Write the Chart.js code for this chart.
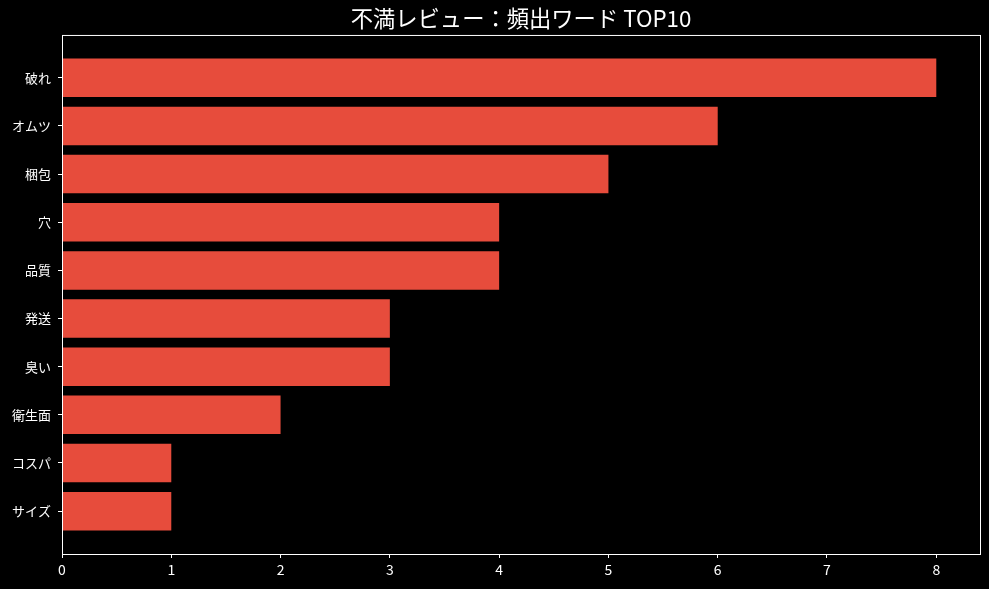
<!DOCTYPE html>
<html>
<head>
<meta charset="utf-8">
<script src="https://cdn.jsdelivr.net/npm/chart.js@4"></script>
<style>
  html, body { margin: 0; padding: 0; background: #000; }
  #wrap { width: 989px; height: 589px; }
</style>
</head>
<body>
<div id="wrap"><canvas id="chart"></canvas></div>
<script>
const categories = ['破れ', 'オムツ', '梱包', '穴', '品質', '発送', '臭い', '衛生面', 'コスパ', 'サイズ']
const counts = [8, 6, 5, 4, 4, 3, 3, 2, 1, 1]
const xTicks = [0, 1, 2, 3, 4, 5, 6, 7, 8]

const FONT = "'Noto Sans CJK JP', 'Noto Sans', sans-serif"

const frame = {
  id: 'frame',
  beforeDraw(chart) {
    const ctx = chart.ctx
    ctx.save()
    ctx.fillStyle = '#000'
    ctx.fillRect(0, 0, chart.width, chart.height)
    ctx.restore()
  },
  afterDraw(chart) {
    const { left, top, right, bottom } = chart.chartArea
    const ctx = chart.ctx
    ctx.save()
    ctx.strokeStyle = '#fff'
    ctx.lineWidth = 1
    ctx.strokeRect(left + 0.5, top + 0.5, right - left, bottom - top)
    ctx.restore()
  }
}

new Chart(document.getElementById('chart'), {
  type: 'bar',
  data: {
    datasets: [{
      data: counts.map((v, i) => ({ x: v, y: i })),
      backgroundColor: '#e74c3c',
      borderWidth: 0,
      barPercentage: 0.8,
      categoryPercentage: 1.0
    }]
  },
  options: {
    indexAxis: 'y',
    responsive: true,
    maintainAspectRatio: false,
    animation: false,
    layout: { padding: { top: 0, right: 9, bottom: 0, left: 0 } },
    scales: {
      x: {
        type: 'linear',
        min: 0,
        max: 8.4,
        afterBuildTicks: (axis) => { axis.ticks = xTicks.map(v => ({ value: v })) },
        afterFit: (axis) => { axis.height = 35 },
        grid: { drawOnChartArea: false, color: '#fff', tickLength: 4, tickWidth: 1 },
        border: { display: false },
        ticks: { color: '#fff', font: { family: FONT, size: 14 }, padding: 3, maxRotation: 0 }
      },
      y: {
        type: 'linear',
        reverse: true,
        offset: false,
        min: -0.89,
        max: 9.89,
        afterBuildTicks: (axis) => { axis.ticks = categories.map((_, i) => ({ value: i })) },
        afterFit: (axis) => { axis.width = 62 },
        grid: { drawOnChartArea: false, offset: false, color: '#fff', tickLength: 4, tickWidth: 1 },
        border: { display: false },
        ticks: {
          color: '#fff',
          font: { family: FONT, size: 13 },
          padding: 7,
          callback: (value) => categories[value]
        }
      }
    },
    plugins: {
      legend: { display: false },
      tooltip: { enabled: false },
      title: {
        display: true,
        fullSize: false,
        text: '不満レビュー：頻出ワード TOP10',
        color: '#fff',
        font: { family: FONT, size: 22.3, weight: 'normal' },
        padding: { top: 5, bottom: 3.2 }
      }
    }
  },
  plugins: [frame]
})
</script>
</body>
</html>
